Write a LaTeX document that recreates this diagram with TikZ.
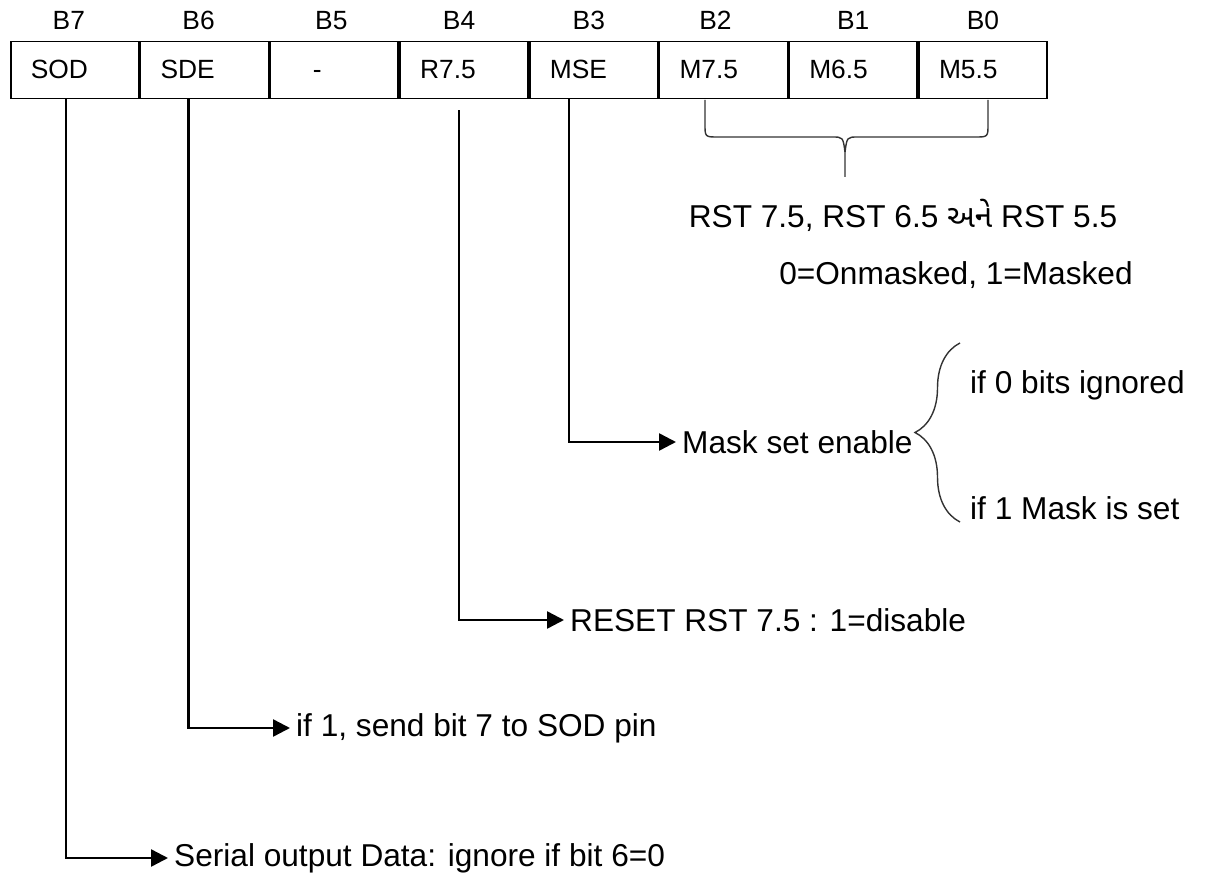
\documentclass[tikz,border=0pt]{standalone}
\usepackage{fontspec}
\setmainfont{Liberation Sans}
\newfontfamily\gujfont[Script=Gujarati]{Noto Sans Gujarati UI}
\usetikzlibrary{arrows.meta,positioning,decorations.pathreplacing}

\begin{document}
\begin{tikzpicture}[
  x=0.02cm, y=-0.02cm,
  font=\fontsize{18}{21}\selectfont,
  >={Triangle[length=3.4mm,width=3.4mm]},
  line/.style={->,line width=1.4pt,draw=black},
  cell/.style={draw=black,line width=1pt,minimum height=1.14cm,
               text width=1.76cm,inner xsep=0.4cm,align=left,
               text height=2.1ex,text depth=0.2ex,
               font=\fontsize{15}{18}\selectfont},
  bitlbl/.style={font=\fontsize{15}{18}\selectfont},
  note/.style={anchor=west},
  bracket/.style={draw=black!80,line width=0.8pt}
]
\useasboundingbox (0,0) rectangle (1207,888);

% the SIM register
\node[cell,anchor=west] (c7) at (10,70) {SOD};
\node[cell,right=0pt of c7] (c6) {SDE};
\node[cell,right=0pt of c6] (c5) {\hspace*{0.45cm}-};
\node[cell,right=0pt of c5] (c4) {R7.5};
\node[cell,right=0pt of c4] (c3) {MSE};
\node[cell,right=0pt of c3] (c2) {M7.5};
\node[cell,right=0pt of c2] (c1) {M6.5};
\node[cell,right=0pt of c1] (c0) {M5.5};

\node[bitlbl,above=1mm of c7,xshift=-0.12cm] (b7) {B7};
\node[bitlbl,above=1mm of c6,xshift=-0.12cm] (b6) {B6};
\node[bitlbl,above=1mm of c5,xshift=-0.06cm] (b5) {B5};
\node[bitlbl,above=1mm of c4,xshift=-0.1cm] (b4) {B4};
\node[bitlbl,above=1mm of c3,xshift=-0.1cm] (b3) {B3};
\node[bitlbl,above=1mm of c2,xshift=-0.16cm] (b2) {B2};
\node[bitlbl,above=1mm of c1] (b1) {B1};
\node[bitlbl,above=1mm of c0] (b0) {B0};

% mask bits
\draw[bracket] (705,100) -- (705,124) .. controls (705,137) .. (718,137)
  -- (832,137) .. controls (843,137) .. (845,152) -- (845,177);
\draw[bracket] (845,152) .. controls (847,137) .. (858,137)
  -- (975,137) .. controls (988,137) .. (988,124) -- (988,100);
\node (rstlist) at (903,215) {RST 7.5, RST 6.5 {\gujfont અને} RST 5.5};
\node (masklvl) at (956,275) {0=Onmasked, 1=Masked};

% notes
\node[note] (maskset) at (676,442) {Mask set enable};
\node[note] (ifzero) at (964,385) {if 0 bits ignored};
\node[note] (ifone) at (964,508) {if 1 Mask is set};
\node[note] (reset) at (564,620) {RESET RST 7.5 : 1=disable};
\node[note] (sendbit) at (290,728) {if 1, send bit 7 to SOD pin};
\node[note] (serial) at (168,858) {Serial output Data: ignore if bit 6=0};

\draw[bracket,decorate,decoration={brace,amplitude=0.9cm}]
  (960,522) -- (960,343);

\draw[line] ([xshift=-0.5cm]c3.south) |- (maskset.west);
\draw[line] ([xshift=-0.1cm,yshift=-0.22cm]c4.south) |- (reset.west);
\draw[line] ([xshift=-0.32cm]c6.south) |- (sendbit.west);
\draw[line] ([xshift=-0.18cm]c7.south) |- (serial.west);
\end{tikzpicture}
\end{document}
